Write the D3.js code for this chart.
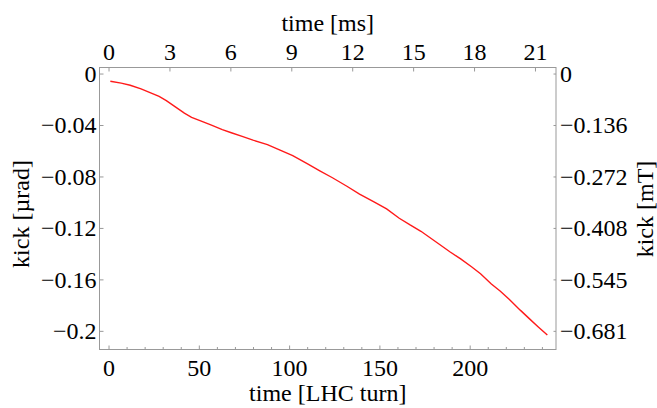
<!DOCTYPE html>
<html><head><meta charset="utf-8">
<script src="https://cdn.jsdelivr.net/npm/d3@7"></script>
<style>body{margin:0;background:#fff}svg{display:block}text{font-family:"Liberation Serif","Times New Roman",serif;fill:#000}</style>
</head><body><svg id="c" width="657" height="408"></svg>
<script>
const turns = [1,7,12,18,23,28,32,37,42,46,51,57,63,68,74,80,88,95,102,110,117,124,132,139,147,154,161,167,173,182,189,195,201,206,212,217,222,228,233,238,243];
const kick = [-0.0060,-0.0074,-0.0091,-0.0119,-0.0148,-0.0178,-0.0211,-0.0259,-0.0308,-0.0340,-0.0368,-0.0401,-0.0436,-0.0460,-0.0489,-0.0518,-0.0553,-0.0596,-0.0638,-0.0701,-0.0756,-0.0810,-0.0876,-0.0937,-0.0998,-0.1052,-0.1125,-0.1177,-0.1226,-0.1315,-0.1385,-0.1441,-0.1502,-0.1556,-0.1636,-0.1692,-0.1756,-0.1839,-0.1905,-0.1970,-0.2033];
const bottomTicks = [0,50,100,150,200];
const topTicks = [0,3,6,9,12,15,18,21];
const leftTicks = [0,-0.04,-0.08,-0.12,-0.16,-0.2];
const rightTickLabels = ["0","\u22120.136","\u22120.272","\u22120.408","\u22120.545","\u22120.681"];
const turnMs = 0.088924;

const L=99.5,R=556,T=67.5,B=349.5;
const svg=d3.select("#c");
const x=d3.scaleLinear().domain([-5,247.8]).range([L,R]);
const xt=d3.scaleLinear().domain([-5*turnMs,247.8*turnMs]).range([L,R]);
const y=d3.scaleLinear().domain([0.0047,-0.2145]).range([T,B]);
const fmt=v=>v===0?"0":(v<0?"\u2212":"")+String(Math.abs(v)).replace(/^0\./,"0.");

const fc="#999";
// frame
svg.append("rect").attr("x",L).attr("y",T).attr("width",R-L).attr("height",B-T).attr("fill","none").attr("stroke",fc).attr("stroke-width",1);

// bottom axis
const gb=svg.append("g").attr("transform",`translate(0,${B})`).call(d3.axisBottom(x).tickValues(bottomTicks).tickSize(-4).tickPadding(9).tickFormat(d3.format("d")));
const gbm=svg.append("g").attr("transform",`translate(0,${B})`).call(d3.axisBottom(x).tickValues(d3.range(0,248,10).filter(v=>v%50)).tickSize(-2.5).tickFormat(""));
// top axis
const gt=svg.append("g").attr("transform",`translate(0,${T})`).call(d3.axisTop(xt).tickValues(topTicks).tickSize(-4).tickPadding(8).tickFormat(d3.format("d")));
// left
const gl=svg.append("g").attr("transform",`translate(${L},0)`).call(d3.axisLeft(y).tickValues(leftTicks).tickSize(-4).tickPadding(3).tickFormat(fmt));
// right
const gr=svg.append("g").attr("transform",`translate(${R},0)`).call(d3.axisRight(y).tickValues(leftTicks).tickSize(-2.5).tickPadding(4).tickFormat((d,i)=>rightTickLabels[i]));

[gb,gbm,gt,gl,gr].forEach(g=>{g.select(".domain").remove();g.selectAll(".tick line").attr("stroke",fc);g.selectAll("text").attr("font-size",24).attr("font-family","'Liberation Serif',serif").attr("fill","#000");});

// line
svg.append("path").datum(turns.map((t,i)=>[t,kick[i]]))
 .attr("fill","none").attr("stroke","#ff1a1a").attr("stroke-width",1.4)
 .attr("d",d3.line().x(d=>x(d[0])).y(d=>y(d[1])));

// titles
svg.append("text").attr("x",(L+R)/2).attr("y",31).attr("text-anchor","middle").attr("font-size",24).text("time [ms]");
svg.append("text").attr("x",(L+R)/2).attr("y",401).attr("text-anchor","middle").attr("font-size",24).text("time [LHC turn]");
svg.append("text").attr("transform","translate(29,214) rotate(-90)").attr("text-anchor","middle").attr("font-size",24).text("kick [\u00b5rad]");
svg.append("text").attr("transform","translate(653,209) rotate(-90)").attr("text-anchor","middle").attr("font-size",24).text("kick [mT]");
</script></body></html>
